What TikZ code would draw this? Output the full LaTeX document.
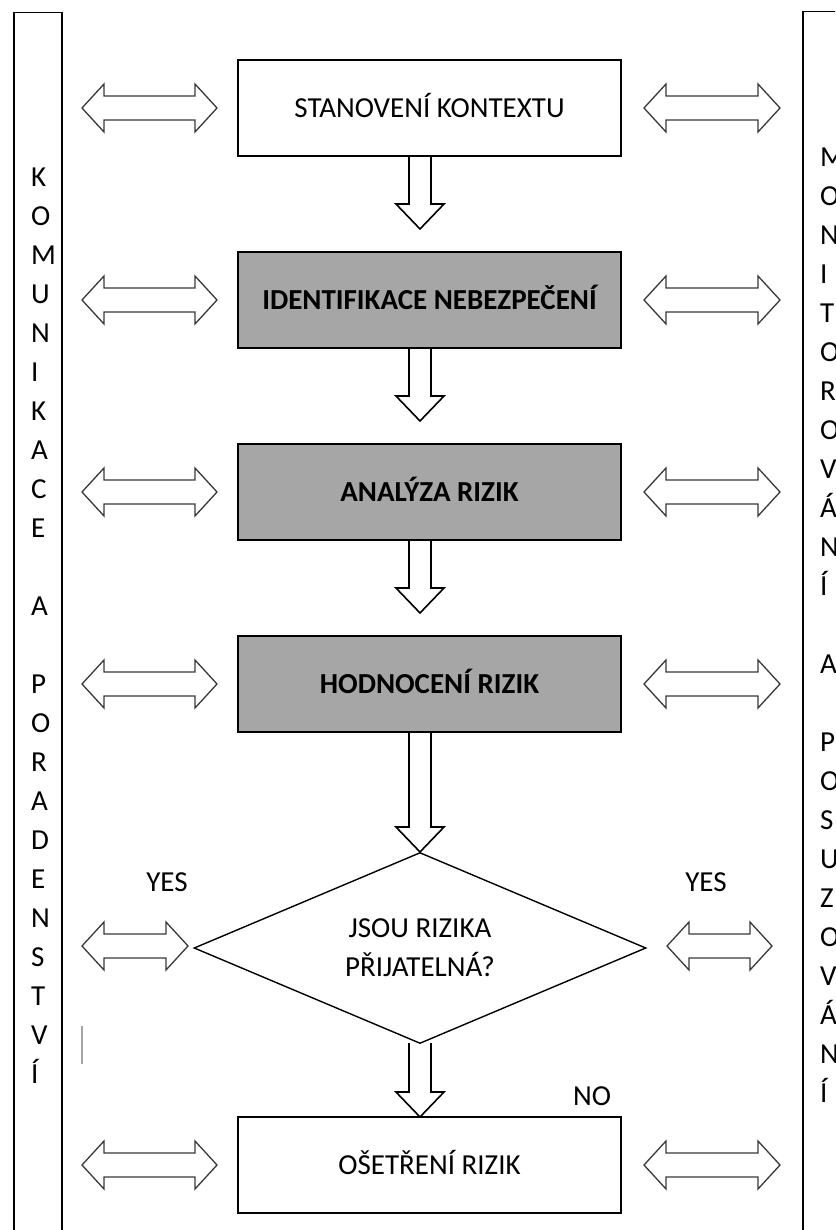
\documentclass[tikz,border=0pt]{standalone}
\usepackage{fontspec}
\setmainfont{Carlito}
\usetikzlibrary{shapes.geometric}
\definecolor{boxgray}{HTML}{A6A6A6}
\definecolor{arrgray}{HTML}{3A3A3A}
\newcommand\DownArr[2]{%
  \draw[blockarr] (409,#1) -- (409,{#2-25}) -- (396,{#2-25}) -- (420,#2) -- (444,{#2-25}) -- (431,{#2-25}) -- (431,#1);}
\newcommand\DblArr[3]{%
  \draw[dblarr] (#2,#1) -- ({#2+22},{#1-24}) -- ({#2+22},{#1-12}) -- ({#3-22},{#1-12}) -- ({#3-22},{#1-24}) -- (#3,#1) -- ({#3-22},{#1+24}) -- ({#3-22},{#1+12}) -- ({#2+22},{#1+12}) -- ({#2+22},{#1+24}) -- cycle;}
\begin{document}
\begin{tikzpicture}[x=1pt,y=-1pt,
  mainfont/.style={font=\fontsize{29}{39}\selectfont},
  stagebox/.style={draw=black,line width=1.8pt,minimum width=383pt,minimum height=96pt,inner sep=0pt,
    text height=18.7pt,text depth=0pt,mainfont},
  graybox/.style={stagebox,fill=boxgray,font=\fontsize{29}{39}\selectfont\bfseries},
  decision/.style={shape=diamond,draw=black,line width=1.4pt,aspect=2.4,minimum width=452pt,
    minimum height=191pt,inner sep=0pt,align=center,mainfont},
  colbox/.style={draw=black,line width=1.5pt,minimum width=48pt,minimum height=1240pt,anchor=north west,inner sep=0pt},
  rcolbox/.style={draw=black,line width=1.5pt,minimum width=100pt,minimum height=1240pt,anchor=north west,inner sep=0pt},
  letter/.style={anchor=base west,inner sep=0pt,mainfont},
  lab/.style={anchor=base,inner sep=0pt,mainfont},
  blockarr/.style={draw=black,line width=1.6pt,line join=miter},
  dblarr/.style={draw=arrgray,line width=1.3pt,line join=miter},
  mark line/.style={draw=gray!70,line width=1.4pt}]
\useasboundingbox (0,0) rectangle (835,1230);
\clip (0,0) rectangle (835,1230);
\fill[white] (0,0) rectangle (835,1230);
% side columns
\node[colbox] (LC) at (13,12) {};
\node[rcolbox] (RC) at (802,11) {};
\foreach \i/\ch in {0/K,1/O,2/M,3/U,4/N,5/I,6/K,7/A,8/C,9/E,11/A,13/P,14/O,15/R,16/A,17/D,18/E,19/N,20/S,21/T,22/V,23/Í}
  \node[letter] (L\i) at (31,{186.4+39*\i}) {\ch};
\foreach \i/\ch in {0/M,1/O,2/N,3/I,4/T,5/O,6/R,7/O,8/V,9/Á,10/N,11/Í,13/A,15/P,16/O,17/S,18/U,19/Z,20/O,21/V,22/Á,23/N,24/Í}
  \node[letter] (R\i) at (820,{166.4+39*\i}) {\ch};
% main stages
\node[stagebox] (B1) at (429.5,108) {STANOVENÍ KONTEXTU};
\node[graybox] (B2) at (429.5,300) {IDENTIFIKACE NEBEZPEČENÍ};
\node[graybox] (B3) at (429.5,492) {ANALÝZA RIZIK};
\node[graybox] (B4) at (429.5,684) {HODNOCENÍ RIZIK};
\node[decision] (D) at (420,948) {JSOU RIZIKA\\PŘIJATELNÁ?};
\node[stagebox] (B5) at (429.5,1165) {OŠETŘENÍ RIZIK};
% down arrows
\DownArr{156}{229}
\DownArr{348}{421}
\DownArr{540}{613}
\DownArr{732}{852}
\DownArr{1043}{1117}
% double arrows
\foreach \y in {108,300,492,684,1165} {\DblArr{\y}{82}{217}\DblArr{\y}{644}{780}}
\DblArr{946}{82}{188}
\DblArr{946}{667}{772}
% labels
\node[lab] (YL) at (167,891) {YES};
\node[lab] (YR) at (706,891) {YES};
\node[lab] (NO) at (592,1105) {NO};
\coordinate (m1) at (82,1026);
\coordinate (m2) at (82,1064);
\draw[mark line] (m1) -- (m2);
\end{tikzpicture}
\end{document}
